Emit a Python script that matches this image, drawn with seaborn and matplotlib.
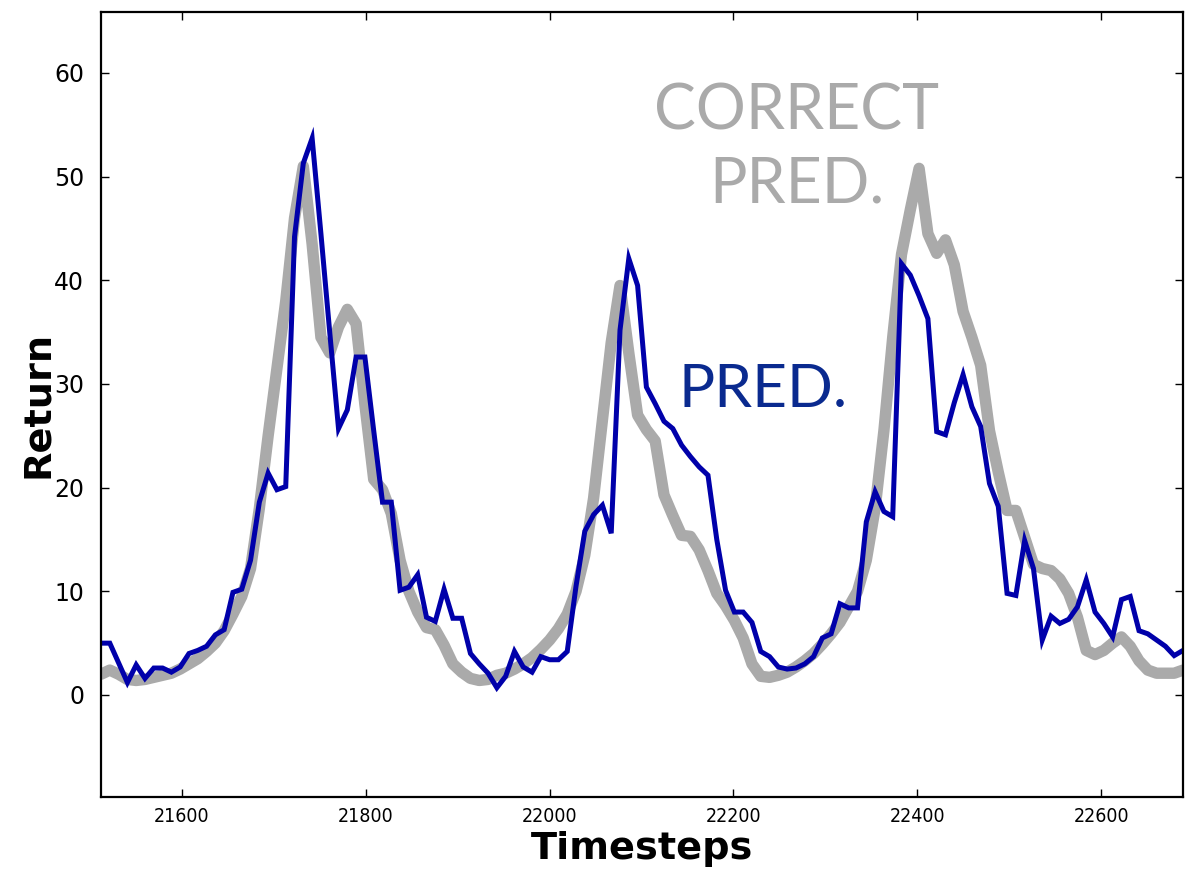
import numpy as np
import pandas as pd
import matplotlib
matplotlib.use("Agg")
import matplotlib.pyplot as plt
import seaborn as sns
from matplotlib import font_manager as fm

# ---------------- data ----------------
timesteps = np.linspace(21512, 22689, 124)

correct = [
    2.0, 2.4, 2.0, 1.5, 1.4, 1.5, 1.7, 1.9, 2.1, 2.5,
    3.0, 3.5, 4.2, 5.0, 6.2, 7.8, 9.5, 12.2, 18.0, 25.0,
    31.5, 38.0, 46.0, 51.0, 43.5, 34.5, 33.0, 35.5, 37.2, 35.8,
    28.0, 20.8, 19.8, 17.5, 13.0, 10.0, 8.0, 6.5, 6.3, 4.8,
    3.0, 2.2, 1.6, 1.4, 1.5, 1.9, 2.1, 2.5, 3.0, 3.6,
    4.4, 5.3, 6.4, 7.8, 10.0, 13.5, 19.0, 26.5, 34.0, 39.5,
    33.0, 27.0, 25.6, 24.5, 19.3, 17.3, 15.4, 15.3, 14.0, 12.0,
    9.8, 8.6, 7.2, 5.5, 3.0, 1.8, 1.7, 1.9, 2.2, 2.7,
    3.3, 4.0, 4.9, 5.9, 7.0, 8.5, 10.0, 13.0, 18.0, 25.5,
    34.5, 42.5, 46.8, 50.8, 44.5, 42.6, 43.9, 41.5, 37.0, 34.5,
    31.8, 25.5, 21.5, 17.8, 17.8, 15.2, 12.6, 12.2, 12.0, 11.2,
    9.8, 7.5, 4.3, 3.9, 4.3, 5.0, 5.6, 4.7, 3.3, 2.4,
    2.1, 2.1, 2.1, 2.4,
]

pred = [
    5.0, 5.0, 3.1, 1.2, 2.9, 1.6, 2.6, 2.6, 2.2, 2.7,
    4.0, 4.3, 4.7, 5.8, 6.3, 9.9, 10.2, 13.0, 18.6, 21.4,
    19.8, 20.1, 44.2, 51.3, 53.7, 44.5, 35.0, 25.7, 27.5, 32.6,
    32.6, 25.5, 18.6, 18.6, 10.1, 10.4, 11.6, 7.5, 7.1, 10.2,
    7.4, 7.4, 4.0, 3.0, 2.1, 0.7, 1.8, 4.2, 2.7, 2.2,
    3.7, 3.4, 3.4, 4.2, 10.5, 15.8, 17.4, 18.3, 15.6, 35.2,
    42.1, 39.5, 29.7, 28.1, 26.4, 25.7, 24.1, 23.0, 22.0, 21.2,
    15.0, 10.1, 8.0, 8.0, 7.0, 4.2, 3.7, 2.7, 2.5, 2.6,
    3.0, 3.7, 5.5, 5.9, 8.8, 8.4, 8.4, 16.7, 19.6, 17.7,
    17.2, 41.6, 40.5, 38.5, 36.3, 25.4, 25.1, 28.2, 30.9, 27.8,
    25.9, 20.4, 18.2, 9.8, 9.6, 14.9, 12.2, 5.3, 7.6, 6.9,
    7.3, 8.5, 11.1, 8.0, 6.9, 5.6, 9.2, 9.5, 6.2, 5.9,
    5.3, 4.7, 3.8, 4.3,
]

x_ticks = [21600, 21800, 22000, 22200, 22400, 22600]
y_ticks = [0, 10, 20, 30, 40, 50, 60]

df = pd.DataFrame({"Timesteps": timesteps, "correct": correct, "pred": pred})

# ---------------- style ----------------
sns.set_style("ticks")
plt.rcParams["font.family"] = ["DejaVu Sans"]
plt.rcParams.update({"text.color": "black", "axes.labelcolor": "black",
                     "xtick.color": "black", "ytick.color": "black"})

# look for a narrow / condensed sans face for the x tick labels
narrow = None
for f in fm.fontManager.ttflist:
    st = str(f.stretch).lower()
    nm = f.name.lower()
    if "sans" not in nm or "serif" in nm or "mono" in nm or "cjk" in nm:
        continue
    if (("condensed" in st or "narrow" in nm or "condensed" in nm)
            and str(f.weight) in ("normal", "400", "regular") and f.style == "normal"):
        if narrow is None or "dejavu" in nm:
            narrow = f
annot_family = ["Lato", "DejaVu Sans"]

W, H = 1198, 871
fig = plt.figure(figsize=(W / 100, H / 100), dpi=100)
ax = fig.add_axes([101 / W, 1 - 797 / H, (1183 - 101) / W, (797 - 12) / H])

sns.lineplot(data=df, x="Timesteps", y="correct", ax=ax, color="#aaaaaa",
             linewidth=8.2, solid_capstyle="round", solid_joinstyle="round")
sns.lineplot(data=df, x="Timesteps", y="pred", ax=ax, color="#0000aa",
             linewidth=3.6, solid_capstyle="round", solid_joinstyle="miter")

ax.set_xlim(21512, 22689)
ax.set_ylim(-9.84, 65.88)
ax.set_xticks(x_ticks)
ax.set_yticks(y_ticks)
ax.set_yticklabels([str(v) for v in y_ticks], fontsize=17)
xt = ax.set_xticklabels([str(v) for v in x_ticks])
if narrow is not None:
    for t in xt:
        t.set_fontproperties(fm.FontProperties(fname=narrow.fname, size=17))
    fig.canvas.draw()
    r = fig.canvas.get_renderer()
    wpx = xt[0].get_window_extent(r).width
    scale = 51.0 / wpx
    for t in xt:
        t.set_fontsize(max(14, min(17, t.get_fontsize() * scale)))
else:
    for t in xt:
        t.set_fontsize(14)

ax.tick_params(axis="both", direction="in", length=6, width=1, color="black",
               top=True, right=True)
ax.tick_params(axis="y", pad=12)
ax.tick_params(axis="x", pad=7)

for s in ax.spines.values():
    s.set_visible(True)
    s.set_linewidth(1.6)
    s.set_color("black")

ax.set_xlabel("Timesteps", fontsize=27.5, fontweight="bold")
ax.xaxis.set_label_coords(0.5, -0.0435)
ax.set_ylabel("Return", fontsize=27.5, fontweight="bold")
ax.yaxis.set_label_coords(-0.0415, 0.5)

ax.text(22269, 54.5, "CORRECT", color="#aaaaaa", fontsize=45,
        family=annot_family, ha="center", va="baseline")
ax.text(22269, 47.46, "PRED.", color="#aaaaaa", fontsize=45,
        family=annot_family, ha="center", va="baseline")
ax.text(22232, 27.78, "PRED.", color="#0a2a8f", fontsize=43.5,
        family=annot_family, ha="center", va="baseline")

fig.savefig("out.png", dpi=100)
